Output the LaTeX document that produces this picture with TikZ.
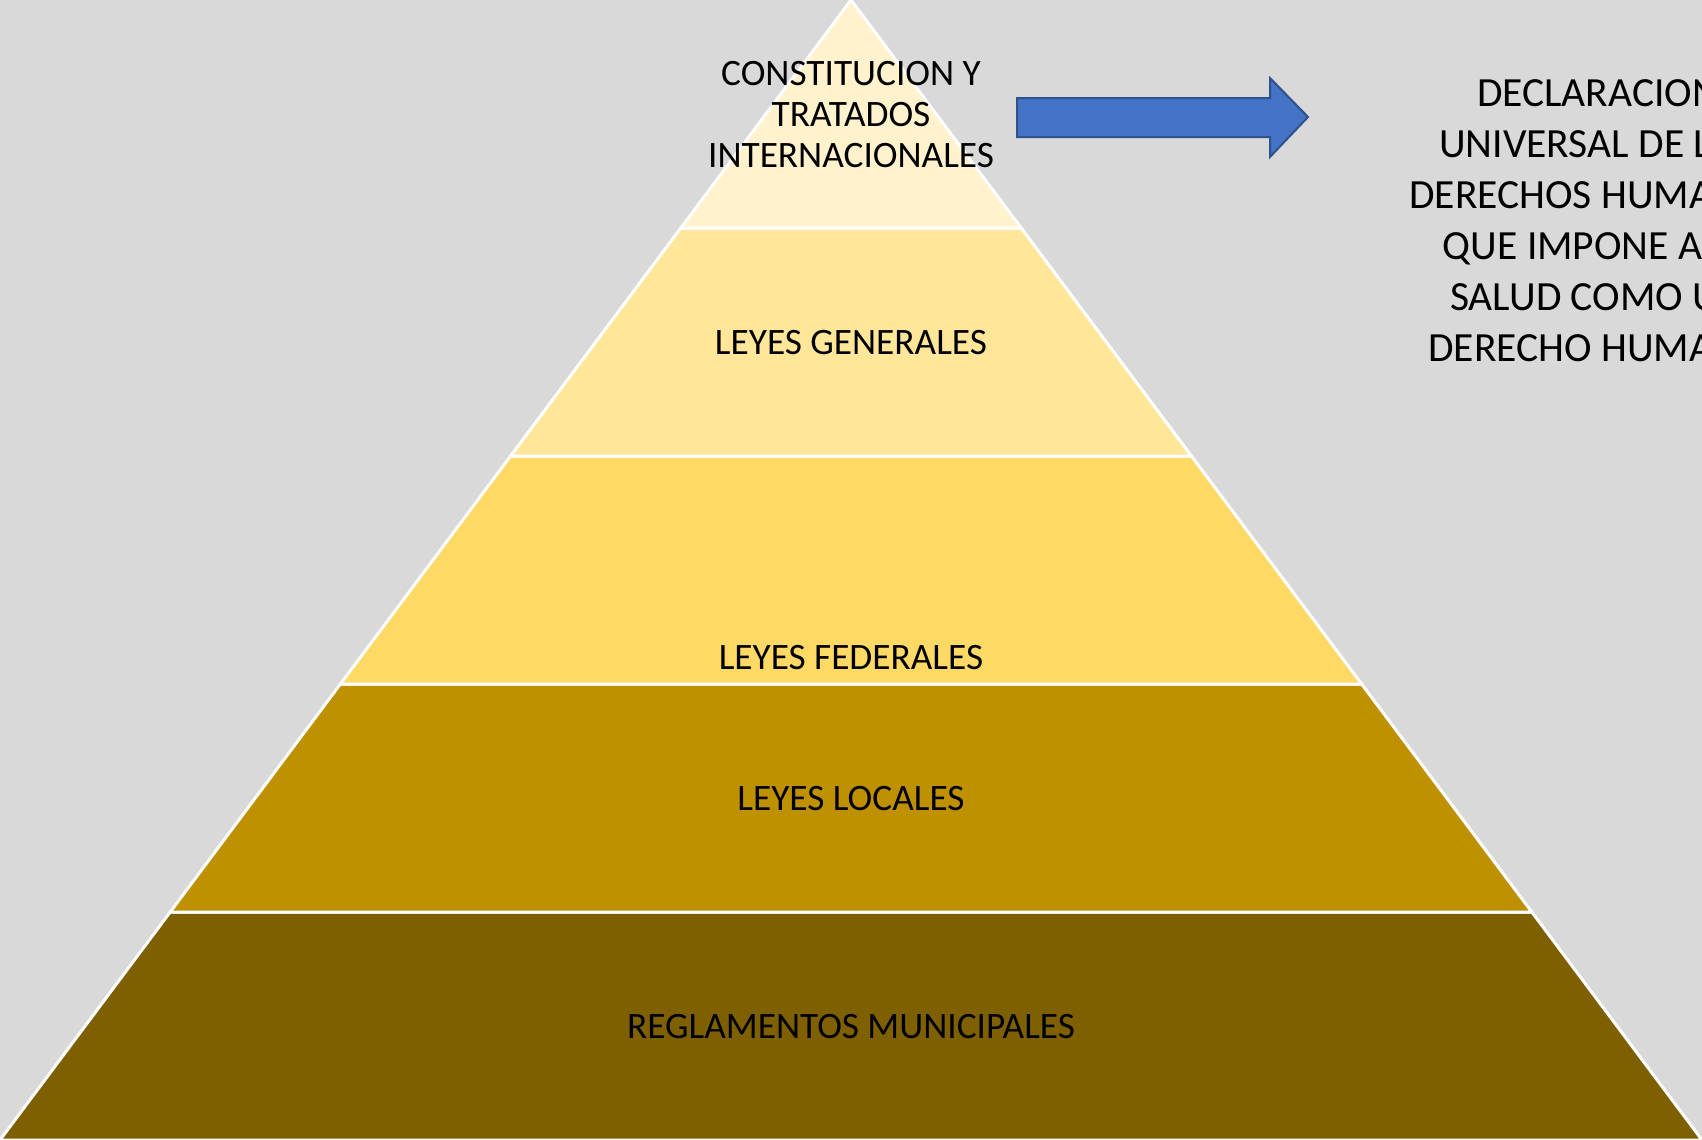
\documentclass[tikz,border=0pt]{standalone}
\usepackage{fontspec}
\setmainfont{Carlito}
\definecolor{bg}{HTML}{D9D9D9}
\definecolor{bandA}{HTML}{FFF2CC}
\definecolor{bandB}{HTML}{FFE699}
\definecolor{bandC}{HTML}{FFD966}
\definecolor{bandD}{HTML}{BF9000}
\definecolor{bandE}{HTML}{7F6000}
\definecolor{arrowblue}{HTML}{4472C4}
\definecolor{arrowedge}{HTML}{2F528F}
\begin{document}
\begin{tikzpicture}[x=1pt,y=-1pt,
  band/.style={draw=white, line width=3pt, line join=miter},
  lbl/.style={font=\fontsize{37.3}{41}\selectfont, anchor=base, inner sep=0pt, align=center, text=black},
  side/.style={font=\fontsize{41.5}{51.1}\selectfont, anchor=base, inner sep=0pt, align=center, text=black},
  bigarrow/.style={fill=arrowblue, draw=arrowedge, line width=2pt, line join=miter}]
\useasboundingbox (0,0) rectangle (1702,1140);
\fill[bg] (0,0) rectangle (1702,1140);
% pyramid bands
\filldraw[band, fill=bandE] (170.2,912) -- (1531.8,912) -- (1702,1140) -- (0,1140) -- cycle;
\filldraw[band, fill=bandD] (340.4,684) -- (1361.6,684) -- (1531.8,912) -- (170.2,912) -- cycle;
\filldraw[band, fill=bandC] (510.6,456) -- (1191.4,456) -- (1361.6,684) -- (340.4,684) -- cycle;
\filldraw[band, fill=bandB] (680.8,228) -- (1021.2,228) -- (1191.4,456) -- (510.6,456) -- cycle;
\filldraw[band, fill=bandA] (851,0) -- (1021.2,228) -- (680.8,228) -- cycle;
% labels (base anchor = last line baseline)
\node[lbl] (constitucion) at (851,167) {CONSTITUCION Y\\TRATADOS\\INTERNACIONALES};
\node[lbl] (generales) at (851,354.5) {LEYES GENERALES};
\node[lbl] (federales) at (851,669) {LEYES FEDERALES};
\node[lbl] (locales) at (851,810) {LEYES LOCALES};
\node[lbl] (reglamentos) at (851,1038) {REGLAMENTOS MUNICIPALES};
% arrow
\filldraw[bigarrow] (1017,98) -- (1270,98) -- (1270,78) -- (1308,117) -- (1270,157) -- (1270,137) -- (1017,137) -- cycle;
% side text
\node[side] (declaracion) at (1598,361.5) {DECLARACION\\UNIVERSAL DE LOS\\DERECHOS HUMANOS\\QUE IMPONE A LA\\SALUD COMO UN\\DERECHO HUMANO};
\end{tikzpicture}
\end{document}
